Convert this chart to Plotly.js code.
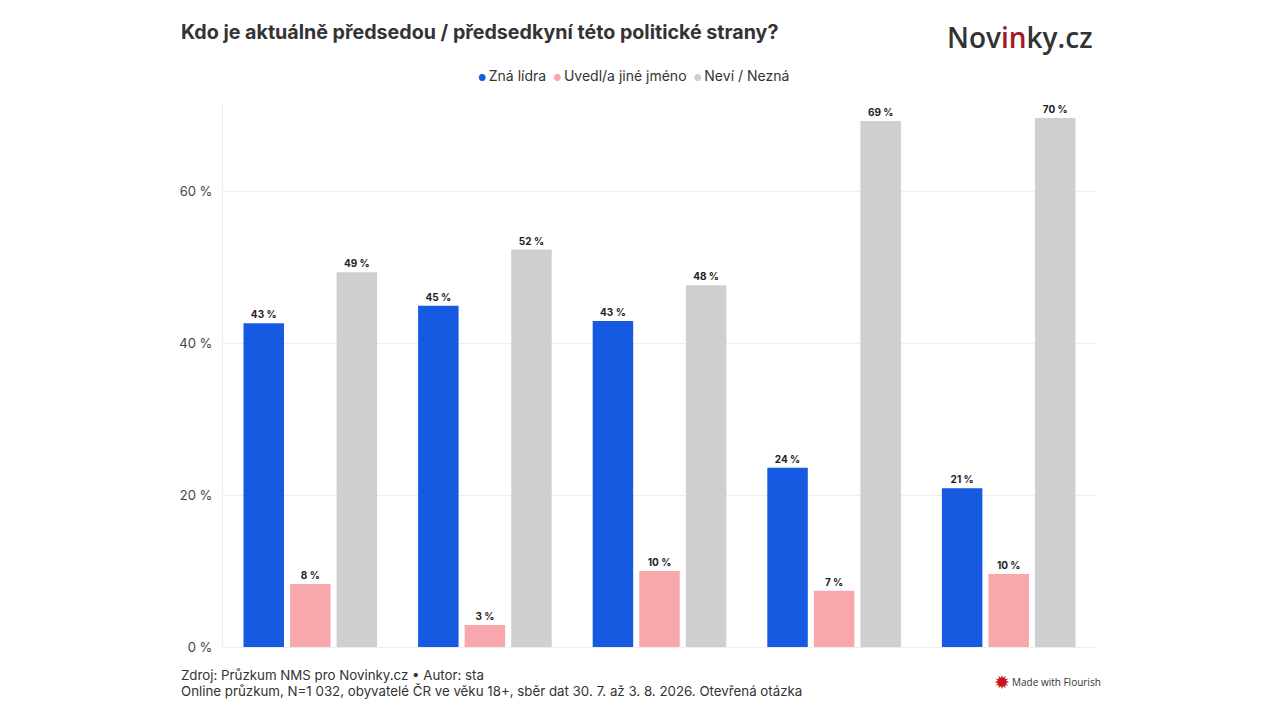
<!DOCTYPE html>
<html>
<head>
<meta charset="utf-8">
<script src="https://cdn.plot.ly/plotly-3.0.1.min.js"></script>
<style>
html, body { margin: 0; padding: 0; background: #fff; }
#mGraph { width: 1280px; height: 720px; }
</style>
</head>
<body>
<div id="mGraph"></div>
<script>
// party names are not shown in the picture, only the five groups
var categories = ['1', '2', '3', '4', '5'];
var seriesNames = ['Zná lídra', 'Uvedl/a jiné jméno', 'Neví / Nezná'];
var seriesColors = ['#155ae0', '#f8a8ac', '#cfcfcf'];
var znaLidra = [42.6, 44.9, 42.9, 23.6, 20.9];
var jineJmeno = [8.3, 2.9, 10, 7.4, 9.6];
var nevi = [49.3, 52.3, 47.6, 69.2, 69.6];
var tickVals = [0, 20, 40, 60];

var fontName = 'Inter, "Noto Sans", sans-serif';

function makeTrace(values, i) {
    return {
        type: 'bar',
        name: seriesNames[i],
        x: categories,
        y: values,
        marker: { color: seriesColors[i] },
        text: values.map(function (v) { return Math.round(v) + ' %'; }),
        textposition: 'outside',
        textangle: 0,
        constraintext: 'none',
        cliponaxis: false,
        textfont: { family: fontName, size: 10, color: '#222', weight: 700 },
        hoverinfo: 'name+y'
    };
}

var data = [makeTrace(znaLidra, 0), makeTrace(jineJmeno, 1), makeTrace(nevi, 2)];

function note(text, x, y, size, anchor, extra) {
    var a = {
        text: text, xref: 'paper', yref: 'paper', showarrow: false,
        x: (x - 223) / 873, y: (647 - y) / 543,
        xanchor: anchor, yanchor: 'middle', align: 'left',
        font: { family: fontName, size: size, color: '#333' }
    };
    for (var k in extra) a[k] = extra[k];
    return a;
}

// legend is drawn by hand, the dots are much closer to the text than a plotly legend allows
var legendText = seriesNames.map(function (name, i) {
    return '<span style="color:' + seriesColors[i] + ';font-size:9px">●</span>\u2009' + name;
}).join('\u2002');

var annotations = [
    note('<b>Kdo je aktuálně předsedou / předsedkyní této politické strany?</b>', 179, 32, 19.65, 'left'),
    note(legendText, 633, 76, 14, 'center'),
    note('Nov<span style="color:#a3182a">in</span>ky.cz', 1020, 37, 28, 'center',
        { font: { family: '"Open Sans", sans-serif', size: 28, color: '#333', weight: 600 } }),
    note('Zdroj: Průzkum NMS pro Novinky.cz • Autor: sta', 179, 675, 13.3, 'left'),
    note('Online průzkum, N=1 032, obyvatelé ČR ve věku 18+, sběr dat 30. 7. až 3. 8. 2026. Otevřená otázka', 179, 691, 13.3, 'left'),
    note('✹', 1001.5, 682, 19, 'center',
        { font: { family: '"DejaVu Sans", sans-serif', size: 19, color: '#c8161d' } }),
    note('Made with Flourish', 1010, 682, 10, 'left',
        { font: { family: '"Open Sans", sans-serif', size: 10, color: '#333' } })
];

var layout = {
    width: 1280,
    height: 720,
    margin: { l: 223, r: 184, t: 104, b: 73, pad: 0 },
    paper_bgcolor: '#fff',
    plot_bgcolor: '#fff',
    barmode: 'group',
    bargap: 0.2,
    bargroupgap: 0.13,
    showlegend: false,
    font: { family: fontName, color: '#333' },
    xaxis: {
        showticklabels: false,
        ticks: '',
        showgrid: false,
        zeroline: false,
        showline: true,
        linecolor: '#eeeeee',
        linewidth: 1
    },
    yaxis: {
        range: [0, 71.45],
        tickvals: tickVals,
        ticktext: tickVals.map(function (v) { return v + ' %'; }),
        tickfont: { family: fontName, size: 13, color: '#444' },
        ticks: 'outside',
        ticklen: 7,
        tickcolor: 'rgba(0,0,0,0)',
        showgrid: true,
        gridcolor: '#eeeeee',
        gridwidth: 1,
        zeroline: false,
        showline: true,
        linecolor: '#eeeeee',
        linewidth: 1
    },
    annotations: annotations
};

function doFirst() {
    Plotly.newPlot('mGraph', data, layout, { displayModeBar: false, responsive: false });
}
window.addEventListener('load', doFirst, false);
</script>
</body>
</html>
